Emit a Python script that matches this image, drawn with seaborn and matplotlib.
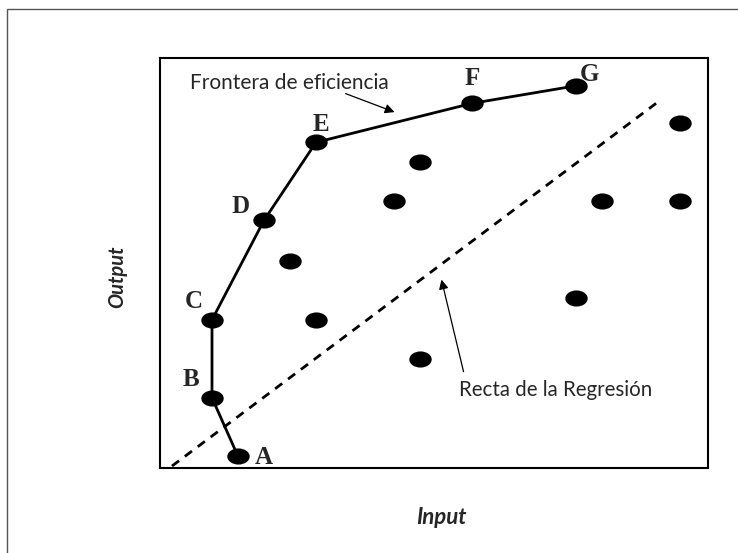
"""Frontera de eficiencia vs recta de regresión (input/output)."""
import matplotlib
matplotlib.use("Agg")
import matplotlib.pyplot as plt
import numpy as np
import pandas as pd
import seaborn as sns
from matplotlib.patches import Rectangle
from matplotlib.path import Path

# unidades: x ~ 26 px, y ~ 19.5 px en la imagen original
frontier_labels = ["A", "B", "C", "D", "E", "F", "G"]
frontier_x = [3.0, 2.0, 2.0, 4.0, 6.0, 12.0, 16.0]
frontier_y = [0.6, 3.6, 7.6, 12.7, 16.7, 18.7, 19.6]

other_x = [10.0, 9.0, 5.0, 6.0, 10.0, 16.0, 17.0, 20.0, 20.0]
other_y = [15.7, 13.7, 10.6, 7.6, 5.6, 8.7, 13.7, 13.7, 17.7]

regression_x = [0.46, 19.08]
regression_y = [0.1, 18.7]

label_offsets = [(1.0, -0.05), (-0.8, 0.95), (-0.7, 0.95), (-0.9, 0.7), (0.2, 0.9), (0.0, 1.3), (0.5, 0.6)]

sns.set_theme(style="white")
plt.rcParams["font.family"] = ["Lato", "DejaVu Sans"]

fig = plt.figure(figsize=(7.38, 5.53), dpi=100)
fig.patches.append(Rectangle((7 / 738, -0.2), 1.2, 1.2 - 9 / 553,
                             transform=fig.transFigure, fill=False,
                             edgecolor="#555555", lw=1.0))
ax = fig.add_axes([160 / 738, 85 / 553, 548 / 738, 410 / 553])

front = pd.DataFrame({"x": frontier_x, "y": frontier_y, "lab": frontier_labels})
others = pd.DataFrame({"x": other_x, "y": other_y})

# marcador elíptico (los puntos del original están achatados)
circ = Path.unit_circle()
ellipse = Path(circ.vertices * np.array([1.0, 0.72]), circ.codes)

sns.lineplot(data=front, x="x", y="y", sort=False, estimator=None,
             color="black", lw=2, ax=ax)
ax.plot(regression_x, regression_y, color="black", lw=2, ls=(0, (3.2, 2.6)))
sns.scatterplot(data=pd.concat([front[["x", "y"]], others]), x="x", y="y",
                marker=ellipse, s=260, color="black", edgecolor="black",
                linewidth=0, ax=ax, zorder=3)

for lab, x, y, (dx, dy) in zip(frontier_labels, frontier_x, frontier_y, label_offsets):
    ax.text(x + dx, y + dy, lab, family="Liberation Serif", fontsize=18,
            fontweight="bold", ha="center", va="center")

ax.annotate("", xy=(9.12, 18.2), xytext=(7.04, 19.25),
            arrowprops=dict(arrowstyle="-|>", color="black", lw=0.9,
                            mutation_scale=14))
ax.text(4.96, 19.74, "Frontera de eficiencia", fontsize=15, ha="center", va="center")

ax.annotate("", xy=(10.8, 9.8), xytext=(11.7, 4.8),
            arrowprops=dict(arrowstyle="-|>", color="black", lw=0.9,
                            mutation_scale=14))
ax.text(15.2, 4.0, "Recta de la Regresión", fontsize=14.8, ha="center", va="center")

ax.set_xlim(0, 548 / 26)
ax.set_ylim(0, 410 / 19.5)
ax.set_xticks([])
ax.set_yticks([])
ax.set_xlabel("")
ax.set_ylabel("")
for sp in ax.spines.values():
    sp.set_color("black")
    sp.set_linewidth(1.5)

fig.text(117 / 738, 1 - 277 / 553, "Output", rotation=90, fontsize=14.5,
         fontweight="bold", fontstyle="italic", ha="center", va="center")
fig.text(441 / 738, 1 - 518 / 553, "Input", fontsize=16,
         fontweight="bold", fontstyle="italic", ha="center", va="center")

fig.savefig("out.png", dpi=100)
